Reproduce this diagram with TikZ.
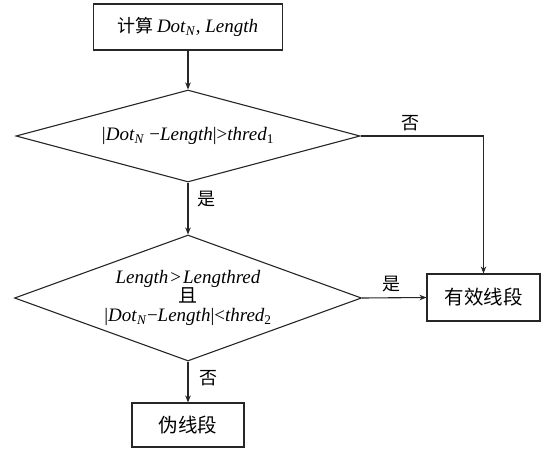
\documentclass[tikz,border=0pt]{standalone}
\usepackage{fontspec}
\setmainfont{Liberation Serif}
\newfontfamily\cjk{Noto Sans CJK SC}
\usetikzlibrary{shapes.geometric,arrows.meta}
\tikzset{
  x=1pt,y=-1pt,
  line/.style={line width=1.1pt,draw=black!85},
  arr/.style={line,-{Stealth[length=7pt,width=5.5pt]}},
  procbox/.style={line,rectangle,inner sep=0pt,font=\fontsize{19}{22}\selectfont},
  decide/.style={line,diamond,inner sep=0pt,align=center,font=\fontsize{19}{22}\selectfont},
  lbl/.style={font=\fontsize{18}{20}\selectfont\cjk,inner sep=0pt}
}
\begin{document}
\begin{tikzpicture}
\useasboundingbox (0,0) rectangle (545,449);
\node[procbox,minimum width=189pt,minimum height=46pt] (top) at (188,27)
  {{\cjk\fontsize{18}{20}\selectfont 计算}\,\textit{Dot}\textsubscript{\textit{N}}, \textit{Length}};
\node[decide,minimum width=344pt,minimum height=92pt,aspect=3.7] (d1) at (188,136)
  {|\textit{Dot}\textsubscript{\textit{N}} −\textit{Length}|>\textit{thred}\textsubscript{1}};
\node[decide,minimum width=347pt,minimum height=126pt,aspect=2.75] (d2) at (188,298)
  {\textit{Length}\kern2pt>\kern2pt\textit{Lengthred}\\[-3pt]{\cjk 且}\\[-3pt]|\textit{Dot}\textsubscript{\textit{N}}−\textit{Length}|<\textit{thred}\textsubscript{2}};
\node[procbox,minimum width=113pt,minimum height=47pt,font=\fontsize{19.5}{22}\selectfont] (valid) at (483.5,297.5) {\cjk 有效线段};
\node[procbox,minimum width=112pt,minimum height=44pt,font=\fontsize{19.5}{22}\selectfont] (fake) at (188,425) {\cjk 伪线段};
\coordinate (corner) at (d1.east -| valid);
\draw[arr] (top) -- (d1.north);
\draw[arr] (d1.south) -- (d2.north);
\draw[arr] (d1.east) -- (corner) -- (valid.north);
\draw[arr] (d2.east) -- (valid.west);
\draw[arr] (d2.south) -- (fake.north);
\node[lbl] (no1) at (410,123) {否};
\node[lbl] (yes1) at (206,199) {是};
\node[lbl] (yes2) at (391,284) {是};
\node[lbl] (no2) at (208,378) {否};
\end{tikzpicture}
\end{document}
